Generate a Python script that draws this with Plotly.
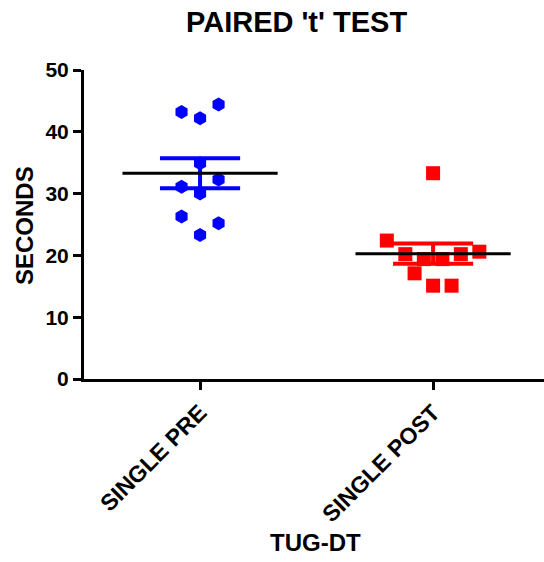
import plotly.graph_objects as go
import numpy as np

# ---------------- data ----------------
categories = ["SINGLE PRE", "SINGLE POST"]
single_pre = [43.2, 42.2, 44.4, 34.9, 31.1, 30.0, 32.3, 26.3, 23.3, 25.2]
single_post = [33.3, 22.4, 20.2, 19.4, 19.4, 20.2, 20.6, 17.1, 15.1, 15.1]
y_ticks = [0, 10, 20, 30, 40, 50]

title_text = "PAIRED 't' TEST"
x_title = "TUG-DT"
y_title = "SECONDS"

# ---------------- layout constants ----------------
W, H = 544, 562
ML, MR, MT, MB = 84, 0, 70, 183
X_RANGE = [-0.498, 1.476]
Y_RANGE = [0, 50]
plot_w = W - ML - MR
px_per_unit = plot_w / (X_RANGE[1] - X_RANGE[0])
STEP = 18.5 / px_per_unit          # horizontal spacing between scattered points
CLUSTER_GAP = 2.2                  # values closer than this overlap vertically
MEAN_HALF = 0.333
SEM_HALF = 0.172
FONT = "Liberation Sans, Arial, sans-serif"


def scatter_offsets(vals):
    """Spread overlapping points horizontally (column-scatter style)."""
    order = sorted(range(len(vals)), key=lambda i: -vals[i])
    groups, cur = [], [order[0]]
    for i in order[1:]:
        if abs(vals[cur[-1]] - vals[i]) < CLUSTER_GAP:
            cur.append(i)
        else:
            groups.append(cur)
            cur = [i]
    groups.append(cur)
    offs = [0.0] * len(vals)
    for g in groups:
        g = sorted(g)  # keep data order left to right
        n = len(g)
        for k, i in enumerate(g):
            offs[i] = (k - (n - 1) / 2) * STEP
    return offs


fig = go.Figure()

series = [
    (0, single_pre, "#0000FF", "hexagon"),
    (1, single_post, "#FF0000", "square"),
]

for xc, vals, color, sym in series:
    offs = scatter_offsets(vals)
    fig.add_trace(go.Scatter(
        x=[xc + o for o in offs], y=vals, mode="markers",
        marker=dict(color=color, symbol=sym, size=14, line=dict(width=0)),
        showlegend=False, hoverinfo="y"))

for xc, vals, color, sym in series:
    arr = np.array(vals, dtype=float)
    m = arr.mean()
    sem = arr.std(ddof=1) / np.sqrt(len(arr))
    # SEM error bar
    fig.add_trace(go.Scatter(
        x=[xc - SEM_HALF, xc + SEM_HALF, None, xc, xc, None, xc - SEM_HALF, xc + SEM_HALF],
        y=[m + sem, m + sem, None, m + sem, m - sem, None, m - sem, m - sem],
        mode="lines", line=dict(color=color, width=4),
        showlegend=False, hoverinfo="skip"))
    # mean line
    fig.add_trace(go.Scatter(
        x=[xc - MEAN_HALF, xc + MEAN_HALF], y=[m, m],
        mode="lines", line=dict(color="black", width=3),
        showlegend=False, hoverinfo="skip"))

ytick_font = dict(family=FONT, size=21, color="black", weight="bold")
xtick_font = dict(family=FONT, size=23, color="black", weight="bold")

fig.update_layout(
    width=W, height=H,
    margin=dict(l=ML, r=MR, t=MT, b=MB),
    paper_bgcolor="white", plot_bgcolor="white",
    xaxis=dict(range=X_RANGE, tickvals=[0, 1], ticktext=categories,
               tickangle=-45, tickfont=xtick_font,
               showgrid=False, zeroline=False,
               showline=True, linecolor="black", linewidth=3,
               ticks="outside", ticklen=8, tickwidth=3, tickcolor="black"),
    yaxis=dict(range=Y_RANGE, tickvals=y_ticks, tickfont=ytick_font,
               showgrid=False, zeroline=False,
               showline=True, linecolor="black", linewidth=3,
               ticks="outside", ticklen=8, tickwidth=3, tickcolor="black"),
    annotations=[
        dict(text=title_text, xref="paper", yref="paper",
             x=(296 - ML) / plot_w, y=(379 - 22) / (H - MT - MB),
             xanchor="center", yanchor="middle", showarrow=False,
             font=dict(family=FONT, size=29, color="black", weight="bold")),
        dict(text=y_title, xref="paper", yref="paper",
             x=(24 - ML) / plot_w, y=(379 - 226) / (H - MT - MB),
             xanchor="center", yanchor="middle", showarrow=False, textangle=-90,
             font=dict(family=FONT, size=24, color="black", weight="bold")),
        dict(text=x_title, xref="paper", yref="paper",
             x=(315 - ML) / plot_w, y=(379 - 542) / (H - MT - MB),
             xanchor="center", yanchor="middle", showarrow=False,
             font=dict(family=FONT, size=24, color="black", weight="bold")),
    ],
)

fig.write_html("out.html")
